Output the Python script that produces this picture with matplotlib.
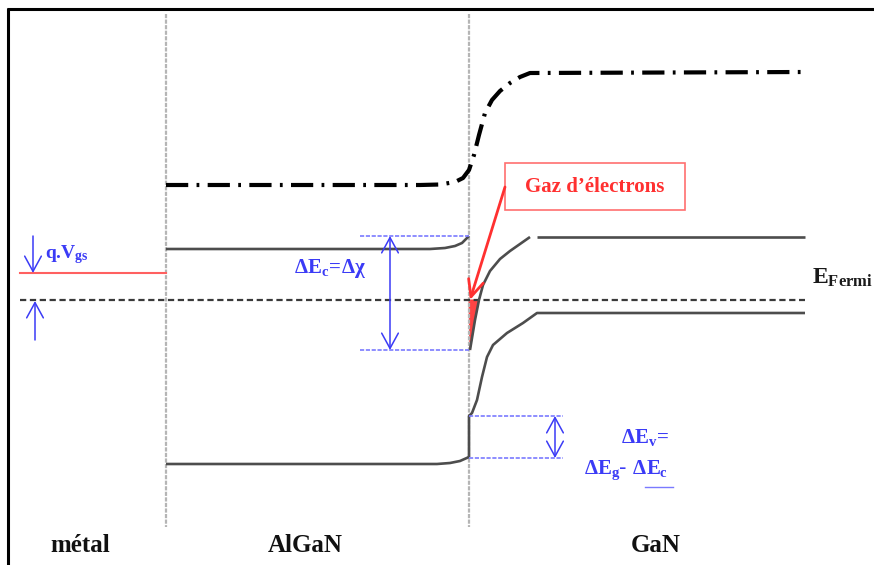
import matplotlib
matplotlib.use("Agg")
import matplotlib.pyplot as plt
from matplotlib.patches import Polygon

plt.rcParams['mathtext.fontset'] = 'custom'
plt.rcParams['mathtext.rm'] = 'Liberation Serif:bold'
plt.rcParams['mathtext.it'] = 'Liberation Serif:bold'
plt.rcParams['mathtext.bf'] = 'Liberation Serif:bold'
plt.rcParams['lines.scale_dashes'] = False

# ---- data (device position x, energy drawn downward y) ----
divider_x = [166, 469]
fermi_y = 300
fermi_x = [20, 805]
metal_x = [20, 166]
metal_y = [273, 273]

vac_x = [166, 420, 440, 455, 463, 469, 474, 479, 485, 492, 500, 510, 520, 530, 805]
vac_y = [185, 185, 184.5, 182, 178, 170, 155, 135, 113, 100, 91, 83, 77, 73, 72]

cb_algan_x = [166, 430, 445, 455, 462, 469]
cb_algan_y = [249, 249, 248, 246, 243, 236]
vb_algan_x = [166, 437, 450, 460, 469]
vb_algan_y = [464, 464, 463, 461, 457]

cb_gan_x = [470, 472, 475, 479, 483, 490, 500, 510, 520, 530]
cb_gan_y = [350, 338, 320, 300, 285, 271, 259, 251, 244, 237]
cb_gan_flat_x = [537, 805]
cb_gan_flat_y = [237, 237]

vb_gan_x = [469, 469, 472, 477, 482, 487, 493, 507, 523, 537, 805]
vb_gan_y = [457, 416, 413, 400, 377, 357, 345, 333, 323, 313, 313]

dEc_levels = [236, 350]
dEc_x = [360, 469]
dEc_arrow_x = 390
dEv_levels = [416, 458]
dEv_x = [469, 563]
dEv_arrow_x = 555

region_labels = ['métal', 'AlGaN', 'GaN']
region_label_x = [80, 305, 656]

# ---- figure ----
fig = plt.figure(figsize=(8.74, 5.65), dpi=100)
ax = fig.add_axes([0, 0, 1, 1])
ax.set_xlim(0, 874)
ax.set_ylim(565, 0)
ax.axis('off')

BAND = '#4d4d4d'
BLUE = '#3b3bf6'
LBLUE = '#7a7aff'
RED = '#ff3030'
SERIF = 'Liberation Serif'

# frame
ax.plot([7, 874], [8.5, 8.5], color='black', lw=2.2, solid_capstyle='butt')
ax.plot([7.5, 7.5], [8, 565], color='black', lw=2.2, solid_capstyle='butt')

# dividers
for xd in divider_x:
    ax.plot([xd, xd], [14, 527], color='#b5b5b5', lw=1.6, dashes=(3, 1))

# fermi level
ax.plot(fermi_x, [fermi_y, fermi_y], color='#3a3a3a', lw=1.6, dashes=(4.5, 2.6))

# metal level
ax.plot(metal_x, metal_y, color='#ff6060', lw=1.5)

# vacuum level (dash-dot)
ax.plot(vac_x, vac_y, color='black', lw=3.0, dashes=(16, 6, 2, 6),
        solid_capstyle='butt', dash_capstyle='butt')

# bands
for xs, ys in [(cb_algan_x, cb_algan_y), (vb_algan_x, vb_algan_y),
               (cb_gan_x, cb_gan_y), (cb_gan_flat_x, cb_gan_flat_y),
               (vb_gan_x, vb_gan_y)]:
    ax.plot(xs, ys, color=BAND, lw=1.9, solid_capstyle='butt')

# 2DEG red triangle
tri = [(divider_x[1], fermi_y)] + [(x, y) for x, y in zip(cb_gan_x, cb_gan_y) if y >= fermi_y][::-1]
ax.add_patch(Polygon(tri, closed=True, facecolor=RED, edgecolor=RED, lw=0.8, alpha=0.9))

ARW = '<->,head_length=1.1,head_width=0.6'
ARW1 = '->,head_length=1.1,head_width=0.6'

# delta Ec
for yl in dEc_levels:
    ax.plot(dEc_x, [yl, yl], color=LBLUE, lw=1.2, dashes=(3, 1.2))
ax.annotate('', xy=(dEc_arrow_x, dEc_levels[0]), xytext=(dEc_arrow_x, dEc_levels[1]),
            arrowprops=dict(arrowstyle=ARW, color=BLUE, lw=1.1, shrinkA=0, shrinkB=0))
ax.text(330, 268, r'$\Delta E_c\!=\!\Delta\chi$', color=BLUE, fontsize=15,
        ha='center', va='center')

# delta Ev
for yl in dEv_levels:
    ax.plot(dEv_x, [yl, yl], color=LBLUE, lw=1.2, dashes=(3, 1.2))
ax.annotate('', xy=(dEv_arrow_x, dEv_levels[0]), xytext=(dEv_arrow_x, dEv_levels[1]),
            arrowprops=dict(arrowstyle=ARW, color=BLUE, lw=1.1, shrinkA=0, shrinkB=0))
ax.text(645, 438, r'$\Delta E_v\!=$', color=BLUE, fontsize=15, ha='center', va='center')
ax.text(626, 470, r'$\Delta E_g$- $\Delta E_c$', color=BLUE, fontsize=15,
        ha='center', va='center')
ax.plot([645, 673], [487, 487], color=LBLUE, lw=1.0)

# q.Vgs arrows and label
ax.annotate('', xy=(33, 273), xytext=(33, 236),
            arrowprops=dict(arrowstyle=ARW1, color=BLUE, lw=1.1, shrinkA=0, shrinkB=0))
ax.annotate('', xy=(35, 301), xytext=(35, 340),
            arrowprops=dict(arrowstyle=ARW1, color=BLUE, lw=1.1, shrinkA=0, shrinkB=0))
ax.text(45, 255, r'q.V$_{\mathrm{gs}}$', color=BLUE, fontsize=14, family=SERIF,
        weight='bold', ha='left', va='center')

# E Fermi label
ax.text(812, 277, r'$\mathrm{E_{Fermi}}$', color='#1a1a1a', fontsize=17,
        ha='left', va='center')

# Gaz d'electrons box + arrow
ax.add_patch(plt.Rectangle((505, 163), 180, 47, facecolor='white', edgecolor='#ff7070', lw=1.2))
ax.text(595, 187, 'Gaz d’électrons', color=RED, fontsize=15, family=SERIF,
        weight='bold', ha='center', va='center')
ax.annotate('', xy=(470, 300), xytext=(505, 187),
            arrowprops=dict(arrowstyle='->,head_length=1.2,head_width=0.55',
                            color=RED, lw=2.0, shrinkA=0, shrinkB=0))

# region labels
for lab, xl in zip(region_labels, region_label_x):
    ax.text(xl, 545, lab, fontsize=18, family=SERIF, weight='bold',
            ha='center', va='center', color='#111111')

fig.savefig('out.png', dpi=100)
